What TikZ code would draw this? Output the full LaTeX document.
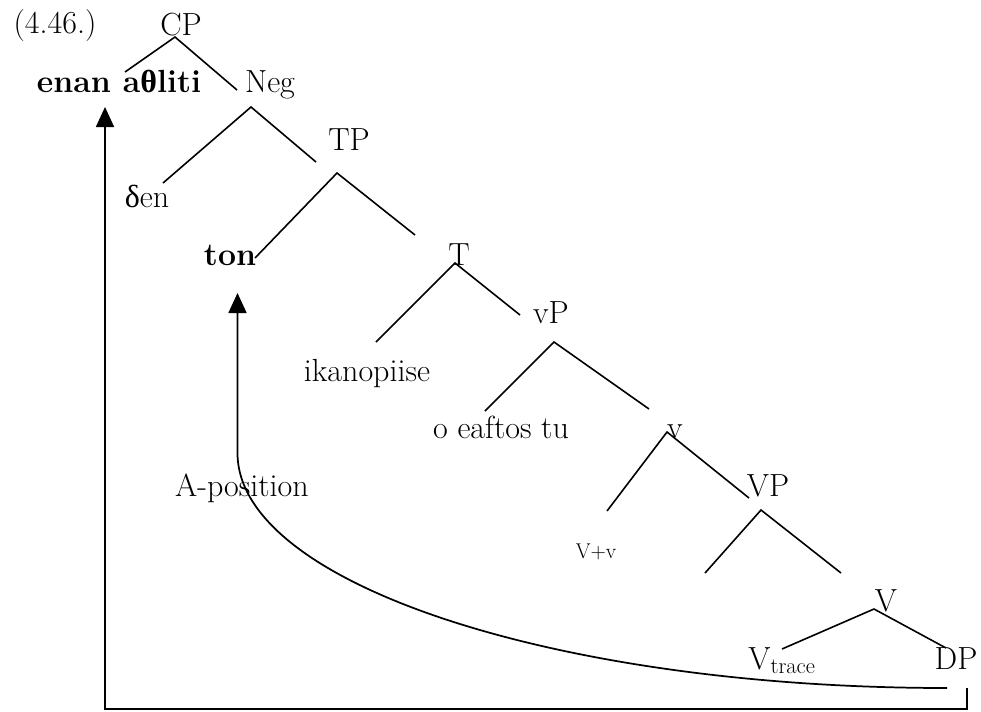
\documentclass[tikz,border=0pt]{standalone}
\usepackage{fontspec}
\newfontfamily\grk{Liberation Serif}
\usetikzlibrary{arrows.meta}
\tikzset{
  lbl/.style={inner sep=0pt, anchor=base, font=\fontsize{24}{28}\selectfont},
  lblsmall/.style={lbl, font=\fontsize{16}{19}\selectfont},
  branch/.style={line width=1.2pt},
  mv/.style={line width=1.3pt, -{Triangle[width=13.5pt,length=15pt]}}
}
\begin{document}
\begin{tikzpicture}[x=0.75pt,y=-0.75pt]
    \useasboundingbox (0,0) rectangle (981,711);
    % Labels
    \node[lbl] (ex) at (55,33) {(4.46.)};
    \node[lbl] (CP) at (181,35) {CP};
    \node[lbl] (enan) at (119,92) {\bfseries enan a{\grk θ}liti};
    \node[lbl] (Neg) at (270,92) {Neg};
    \node[lbl] (den) at (147,207) {{\grk δ}en};
    \node[lbl] (TP) at (349,150) {TP};
    \node[lbl] (ton) at (230,265) {\bfseries ton};
    \node[lbl] (T) at (459,265) {T};
    \node[lbl] (vP) at (551,323) {vP};
    \node[lbl] (ikan) at (367,381) {ikanopiise};
    \node[lbl] (eaft) at (501,438) {o eaftos tu};
    \node[lbl] (v) at (675,438) {v};
    \node[lbl] (Apos) at (242,496) {A-position};
    \node[lbl] (VP) at (768,496) {VP};
    \node[lblsmall] (Vv) at (596,558) {V+v};
    \node[lbl] (V) at (886,611) {V};
    \node[lbl] (Vtr) at (782,669) {V\textsubscript{trace}};
    \node[lbl] (DP) at (956,669) {DP};
    % Branch points
    \coordinate (cp-top) at (175,37);  \coordinate (cp-l) at (125,72);  \coordinate (cp-r) at (237,90);
    \coordinate (neg-top) at (251,107); \coordinate (neg-l) at (163,183); \coordinate (neg-r) at (316,162);
    \coordinate (tp-top) at (337,173); \coordinate (tp-l) at (255,258); \coordinate (tp-r) at (415,235);
    \coordinate (t-top) at (455,263);  \coordinate (t-l) at (376,342);  \coordinate (t-r) at (520,315);
    \coordinate (vp-top) at (554,342); \coordinate (vp-l) at (485,411); \coordinate (vp-r) at (649,409);
    \coordinate (v-top) at (667,432);  \coordinate (v-l) at (607,511);  \coordinate (v-r) at (749,498);
    \coordinate (VP-top) at (761,510); \coordinate (VP-l) at (705,573); \coordinate (VP-r) at (841,573);
    \coordinate (V-top) at (874,609);  \coordinate (V-l) at (782,649);  \coordinate (V-r) at (946,648);
    % Branches
    \foreach \n in {cp,neg,tp,t,vp,v,VP,V}
      \draw[branch] (\n-l) -- (\n-top) -- (\n-r);
    % Movement
    \coordinate (a-head) at (105,107);
    \coordinate (a-foot) at (105,709);
    \coordinate (a-tail) at (967,688);
    \draw[mv] (a-tail) |- (a-foot) -- (a-head);
    \coordinate (b-head) at (237.5,293);
    \coordinate (b-bend) at (237.5,453);
    \coordinate (b-tail) at (947,688);
    \draw[mv] (b-tail) .. controls (555,688) and (237.5,583) .. (b-bend) -- (b-head);
\end{tikzpicture}
\end{document}
